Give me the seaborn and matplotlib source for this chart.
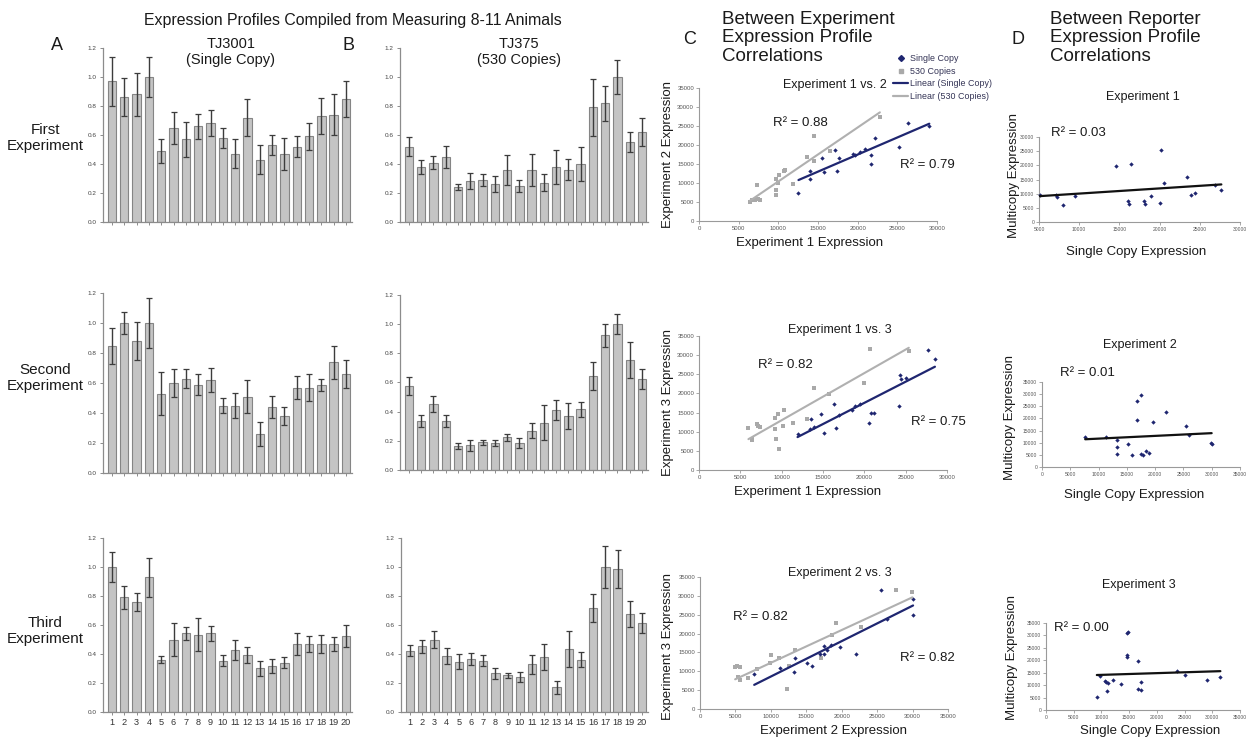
import numpy as np
import pandas as pd
import matplotlib
matplotlib.use("Agg")
import matplotlib.pyplot as plt
import seaborn as sns
from matplotlib.lines import Line2D

W, H = 1249, 740

# ---------------------------------------------------------------------------
# Relative expression profiles (mean and error) for genes 1-20
# ---------------------------------------------------------------------------
genes = [str(i) for i in range(1, 21)]
bar_yticks = [0.0, 0.2, 0.4, 0.6, 0.8, 1.0, 1.2]

tj3001_exp1_mean = [0.97, 0.86, 0.88, 1.00, 0.49, 0.65, 0.57, 0.66, 0.68, 0.58,
                    0.47, 0.72, 0.43, 0.53, 0.47, 0.52, 0.59, 0.73, 0.74, 0.85]
tj3001_exp1_err = [0.17, 0.13, 0.15, 0.135, 0.08, 0.11, 0.12, 0.085, 0.09, 0.07,
                   0.10, 0.125, 0.10, 0.07, 0.11, 0.07, 0.09, 0.125, 0.14, 0.125]

tj375_exp1_mean = [0.52, 0.38, 0.41, 0.45, 0.24, 0.28, 0.29, 0.26, 0.36, 0.25,
                   0.36, 0.27, 0.38, 0.36, 0.40, 0.79, 0.82, 1.00, 0.55, 0.62]
tj375_exp1_err = [0.065, 0.05, 0.047, 0.075, 0.02, 0.055, 0.04, 0.055, 0.105, 0.04,
                  0.11, 0.058, 0.12, 0.072, 0.12, 0.195, 0.12, 0.115, 0.07, 0.095]

tj3001_exp2_mean = [0.85, 1.00, 0.88, 1.00, 0.53, 0.60, 0.63, 0.59, 0.62, 0.45,
                    0.45, 0.51, 0.26, 0.44, 0.38, 0.57, 0.57, 0.59, 0.74, 0.66]
tj3001_exp2_err = [0.12, 0.075, 0.125, 0.165, 0.145, 0.095, 0.065, 0.07, 0.082, 0.05,
                   0.085, 0.11, 0.08, 0.075, 0.06, 0.075, 0.087, 0.04, 0.11, 0.095]

tj375_exp2_mean = [0.575, 0.335, 0.45, 0.335, 0.166, 0.168, 0.189, 0.184, 0.225, 0.184,
                   0.27, 0.324, 0.41, 0.37, 0.415, 0.644, 0.923, 1.00, 0.755, 0.625]
tj375_exp2_err = [0.06, 0.043, 0.055, 0.043, 0.02, 0.04, 0.02, 0.02, 0.025, 0.036,
                  0.05, 0.12, 0.07, 0.09, 0.05, 0.096, 0.08, 0.07, 0.122, 0.07]

tj3001_exp3_mean = [1.00, 0.79, 0.756, 0.929, 0.361, 0.499, 0.543, 0.533, 0.543, 0.354,
                    0.428, 0.391, 0.301, 0.315, 0.34, 0.469, 0.469, 0.469, 0.469, 0.526]
tj3001_exp3_err = [0.105, 0.08, 0.062, 0.135, 0.025, 0.115, 0.046, 0.115, 0.053, 0.039,
                   0.07, 0.055, 0.05, 0.048, 0.039, 0.075, 0.055, 0.062, 0.05, 0.076]

tj375_exp3_mean = [0.423, 0.453, 0.499, 0.389, 0.347, 0.366, 0.354, 0.267, 0.253, 0.244,
                   0.329, 0.38, 0.17, 0.434, 0.361, 0.717, 1.00, 0.984, 0.678, 0.614]
tj375_exp3_err = [0.04, 0.046, 0.06, 0.055, 0.053, 0.041, 0.037, 0.039, 0.016, 0.034,
                  0.064, 0.092, 0.046, 0.122, 0.053, 0.097, 0.143, 0.131, 0.09, 0.071]

# ---------------------------------------------------------------------------
# Between-experiment correlations (raw expression)
# ---------------------------------------------------------------------------
e12_single_x = [12540, 13980, 14030, 15810, 15470, 17160, 17370, 17670, 19410, 19620,
                20340, 20980, 21650, 21650, 22160, 25260, 26400, 29030]
e12_single_y = [7370, 11140, 13160, 12890, 16580, 18590, 13070, 16580, 17720, 17460,
                18160, 19040, 14910, 17370, 21750, 19470, 25880, 25090]
e12_multi_x = [7330, 6400, 6700, 7030, 7630, 7400, 9660, 9660, 9660, 9960,
               10080, 10720, 10810, 11910, 13560, 14490, 14530, 16570, 22800]
e12_multi_y = [9560, 5000, 5440, 5610, 5440, 5700, 8070, 6750, 10960, 10000,
               12190, 13070, 13510, 9820, 16930, 22280, 15700, 18330, 27370]

e13_single_x = [11920, 13380, 13540, 13860, 15080, 14790, 16290, 16570, 16900, 18510,
                18840, 19520, 20530, 20860, 21220, 24290, 24490, 25100, 27690, 28540, 24250]
e13_single_y = [9340, 10830, 13440, 11260, 9780, 14750, 17110, 11090, 14490, 15630,
                16670, 17110, 12400, 14840, 14840, 24790, 23660, 23920, 31340, 28980, 16670]
e13_multi_x = [5980, 6470, 6990, 7110, 7400, 9220, 9220, 9300, 9500, 9700,
               10150, 10310, 11360, 13060, 13860, 15760, 19930, 20650, 25380, 6390]
e13_multi_y = [11090, 8210, 11960, 11440, 11260, 13710, 10650, 8210, 14580, 5590,
               11440, 15800, 12310, 13440, 21480, 19820, 22790, 31520, 31170, 7770]

e23_single_x = [7650, 11330, 13220, 13360, 15100, 15810, 16990, 17560, 17560, 17940,
                18500, 19820, 21950, 25490, 26430, 30070, 30070]
e23_single_y = [9370, 10860, 9810, 13490, 12180, 11300, 14630, 14630, 16640, 15680,
                17080, 16560, 14630, 31450, 23830, 29080, 24880]
e23_multi_x = [4960, 5190, 5660, 5330, 5660, 6840, 8020, 9910, 10050, 11090,
               12270, 12510, 13450, 17130, 19260, 22660, 27660, 29970, 18640]
e23_multi_y = [11130, 11480, 11130, 8500, 7800, 8230, 10690, 12180, 14370, 13580,
               5430, 11300, 15770, 13490, 22690, 21640, 31540, 31100, 19620]

# ---------------------------------------------------------------------------
# Between-reporter correlations (single copy vs multicopy)
# ---------------------------------------------------------------------------
rep1_single = [5080, 7110, 7230, 8000, 9460, 14520, 16420, 16020, 16220, 18040,
               18240, 18930, 20070, 20230, 20550, 23470, 23870, 24440, 26950, 27680]
rep1_multi = [9640, 9640, 8940, 6000, 9170, 19640, 20580, 7290, 6470, 7410,
              6470, 9170, 6820, 25280, 13880, 15880, 9410, 10350, 13170, 11410]

rep2_single = [7640, 11350, 13230, 13230, 13230, 15170, 15880, 16820, 16820, 17520,
               17520, 17820, 18400, 18880, 19700, 21870, 25400, 26050, 29870, 29990]
rep2_multi = [12190, 12190, 10960, 8080, 5340, 9590, 4800, 27260, 19180, 29730,
              5340, 4930, 6710, 5750, 18500, 22470, 16990, 13150, 9860, 9450]

rep3_single = [9170, 9760, 10580, 10880, 11050, 11170, 12110, 13470, 14580, 14760,
               14640, 14640, 16520, 16640, 17050, 17110, 23700, 24990, 28990, 31460]
rep3_multi = [5240, 13570, 11560, 11160, 7660, 10890, 11960, 10480, 31050, 31320,
              22310, 21370, 19620, 8600, 8060, 11150, 15590, 14250, 12230, 13170]

# ---------------------------------------------------------------------------
sns.set_theme(style="white")
plt.rcParams["font.family"] = ["Liberation Sans", "DejaVu Sans"]

BAR_FILL = "#c4c4c4"
BAR_EDGE = "#858585"
ERR_COL = "#3c3c3c"
NAVY = "#1f2670"
GREY_PT = "#a9a9a9"
GREY_LINE = "#b0b0b0"
TXT = "#1a1a1a"

fig = plt.figure(figsize=(W / 100, H / 100), dpi=100)


def px_axes(l, t, r, b):
    return fig.add_axes([l / W, 1 - b / H, (r - l) / W, (b - t) / H])


def ftext(x, y, s, **kw):
    kw.setdefault("color", TXT)
    kw.setdefault("ha", "center")
    kw.setdefault("va", "center")
    fig.text(x / W, 1 - y / H, s, **kw)


def bar_panel(box, means, errs, numbers):
    ax = px_axes(*box)
    df = pd.DataFrame({"gene": genes, "expr": means})
    sns.barplot(data=df, x="gene", y="expr", order=genes, color=BAR_FILL,
                saturation=1, width=0.68, edgecolor=BAR_EDGE, linewidth=0.8,
                errorbar=None, ax=ax)
    ax.errorbar(np.arange(len(genes)), means, yerr=errs, fmt="none",
                ecolor=ERR_COL, elinewidth=1.0, capsize=2.0, capthick=0.9)
    ax.set_xlim(-0.73, 19.49)
    ax.set_ylim(0, 1.2)
    ax.set_yticks(bar_yticks)
    ax.set_yticklabels([f"{v:.1f}" for v in bar_yticks])
    ax.set_xlabel("")
    ax.set_ylabel("")
    sns.despine(ax=ax)
    for s in ("left", "bottom"):
        ax.spines[s].set_color("#8c8c8c")
        ax.spines[s].set_linewidth(0.9)
    ax.tick_params(axis="y", left=True, direction="out", length=2.5, width=0.7,
                   color="#8c8c8c", labelsize=4.6, labelcolor="#444444", pad=2)
    ax.tick_params(axis="x", bottom=True, direction="out", length=2.5, width=0.7,
                   color="#8c8c8c", labelsize=6.6, labelcolor="#333333", pad=2,
                   labelbottom=numbers)
    return ax


bar_panel((103, 48, 352, 222), tj3001_exp1_mean, tj3001_exp1_err, False)
bar_panel((400, 48, 648, 222), tj375_exp1_mean, tj375_exp1_err, False)
bar_panel((103, 293, 352, 473), tj3001_exp2_mean, tj3001_exp2_err, False)
bar_panel((400, 295, 648, 470), tj375_exp2_mean, tj375_exp2_err, False)
bar_panel((103, 538, 352, 712), tj3001_exp3_mean, tj3001_exp3_err, True)
bar_panel((401, 538, 648, 712), tj375_exp3_mean, tj375_exp3_err, True)


def scatter_axes(box, xlim, xticks, ylim, yticks, xlabel, ylabel, xl_pos, yl_pos,
                 ticksize=4.3):
    ax = px_axes(*box)
    l, t, r, b = box
    ax.set_xlim(*xlim)
    ax.set_ylim(*ylim)
    ax.set_xticks(xticks)
    ax.set_yticks(yticks)
    ax.set_xticklabels([str(v) for v in xticks])
    ax.set_yticklabels([str(v) for v in yticks])
    sns.despine(ax=ax)
    for s in ("left", "bottom"):
        ax.spines[s].set_color("#9a9a9a")
        ax.spines[s].set_linewidth(0.8)
    ax.tick_params(left=True, bottom=True, direction="out", length=2, width=0.6,
                   color="#9a9a9a", labelsize=ticksize, labelcolor="#555555", pad=1.5)
    ax.set_xlabel(xlabel, fontsize=9.5, color=TXT)
    ax.set_ylabel(ylabel, fontsize=9.5, color=TXT)
    # label positions given in figure pixels (x centre / top for x label,
    # right edge / centre for y label)
    ax.xaxis.set_label_coords((xl_pos[0] - l) / (r - l), -(xl_pos[1] - b) / (b - t))
    ax.yaxis.set_label_coords((yl_pos[0] - l) / (r - l), (b - yl_pos[1]) / (b - t))
    return ax


def two_series(ax, sx, sy, mx, my):
    sns.scatterplot(x=mx, y=my, marker="s", s=9, color=GREY_PT, linewidth=0,
                    ax=ax, clip_on=False, zorder=3)
    sns.scatterplot(x=sx, y=sy, marker="D", s=5, color=NAVY, linewidth=0,
                    ax=ax, clip_on=False, zorder=3)
    sns.regplot(x=np.array(mx), y=np.array(my), scatter=False, ci=None,
                truncate=True, color=GREY_LINE, line_kws={"lw": 1.5, "zorder": 4},
                ax=ax)
    sns.regplot(x=np.array(sx), y=np.array(sy), scatter=False, ci=None,
                truncate=True, color=NAVY, line_kws={"lw": 1.6, "zorder": 5},
                ax=ax)


def one_series(ax, sx, my):
    sns.scatterplot(x=sx, y=my, marker="D", s=5, color=NAVY, linewidth=0,
                    ax=ax, clip_on=False, zorder=3)
    sns.regplot(x=np.array(sx), y=np.array(my), scatter=False, ci=None,
                truncate=True, color="#111111", line_kws={"lw": 1.6, "zorder": 4},
                ax=ax)


ticks30 = list(range(0, 30001, 5000))
ticks35 = list(range(0, 35001, 5000))

# --- C: between experiment -------------------------------------------------
c1 = scatter_axes((699, 88, 937, 221), (0, 30000), ticks30, (0, 35000), ticks35,
                  "Experiment 1 Expression", "Experiment 2 Expression",
                  (810, 237), (674, 155))
two_series(c1, e12_single_x, e12_single_y, e12_multi_x, e12_multi_y)
c1.set_xlim(0, 30000); c1.set_ylim(0, 35000)

c2 = scatter_axes((699, 336, 947, 470), (0, 30000), ticks30, (0, 35000), ticks35,
                  "Experiment 1 Expression", "Experiment 3 Expression",
                  (808, 486), (674, 403))
two_series(c2, e13_single_x, e13_single_y, e13_multi_x, e13_multi_y)
c2.set_xlim(0, 30000); c2.set_ylim(0, 35000)

c3 = scatter_axes((700, 577, 948, 709), (0, 35000), ticks35, (0, 35000), ticks35,
                  "Experiment 2 Expression", "Experiment 3 Expression",
                  (833, 725), (674, 647))
two_series(c3, e23_single_x, e23_single_y, e23_multi_x, e23_multi_y)
c3.set_xlim(0, 35000); c3.set_ylim(0, 35000)

# --- D: between reporter ---------------------------------------------------
d1 = scatter_axes((1039, 137, 1240, 222), (5000, 30000), ticks30[1:], (0, 30000), ticks30,
                  "Single Copy Expression", "Multicopy Expression",
                  (1136, 246), (1020, 175), ticksize=3.6)
one_series(d1, rep1_single, rep1_multi)
d1.set_xlim(5000, 30000); d1.set_ylim(0, 30000)

d2 = scatter_axes((1042, 382, 1240, 467), (0, 35000), ticks35, (0, 35000), ticks35,
                  "Single Copy Expression", "Multicopy Expression",
                  (1134, 489), (1016, 418), ticksize=3.6)
one_series(d2, rep2_single, rep2_multi)
d2.set_xlim(0, 35000); d2.set_ylim(0, 35000)

d3 = scatter_axes((1046, 623, 1240, 710), (0, 35000), ticks35, (0, 35000), ticks35,
                  "Single Copy Expression", "Multicopy Expression",
                  (1150, 725), (1018, 658), ticksize=3.6)
one_series(d3, rep3_single, rep3_multi)
d3.set_xlim(0, 35000); d3.set_ylim(0, 35000)

# --- panel titles and fit statistics --------------------------------------
for x, y, s in [(835, 85, "Experiment 1 vs. 2"), (840, 330, "Experiment 1 vs. 3"),
                (840, 573, "Experiment 2 vs. 3"), (1143, 97, "Experiment 1"),
                (1140, 345, "Experiment 2"), (1139, 585, "Experiment 3")]:
    ftext(x, y, s, fontsize=9)

for x, y, s in [(800, 123, "R² = 0.88"), (927, 165, "R² = 0.79"),
                (785, 365, "R² = 0.82"), (938, 422, "R² = 0.75"),
                (760, 617, "R² = 0.82"), (927, 658, "R² = 0.82"),
                (1078, 133, "R² = 0.03"), (1087, 373, "R² = 0.01"),
                (1081, 628, "R² = 0.00")]:
    ftext(x, y, s, fontsize=9.5)

# legend for the experiment correlations
handles = [
    Line2D([], [], ls="none", marker="D", ms=3.0, color=NAVY),
    Line2D([], [], ls="none", marker="s", ms=3.4, color=GREY_PT),
    Line2D([], [], color=NAVY, lw=1.6),
    Line2D([], [], color=GREY_LINE, lw=1.6),
]
labels = ["Single Copy", "530 Copies", "Linear (Single Copy)", "Linear (530 Copies)"]
fig.legend(handles, labels, loc="upper left", bbox_to_anchor=(893 / W, 1 - 54 / H),
           frameon=False, fontsize=6.4, handlelength=1.7, handletextpad=0.25,
           labelspacing=0.42, borderaxespad=0, borderpad=0, labelcolor="#333355")

# --- headings --------------------------------------------------------------
ftext(353, 20, "Expression Profiles Compiled from Measuring 8-11 Animals", fontsize=11.4)
ftext(57, 46, "A", fontsize=13)
ftext(348, 46, "B", fontsize=13)
ftext(690, 40, "C", fontsize=13)
ftext(1018, 40, "D", fontsize=13)
ftext(231, 52, "TJ3001\n(Single Copy)", fontsize=10.5, linespacing=1.15)
ftext(519, 52, "TJ375\n(530 Copies)", fontsize=10.5, linespacing=1.15)
ftext(45, 138, "First\nExperiment", fontsize=11, linespacing=1.15)
ftext(45, 378, "Second\nExperiment", fontsize=11, linespacing=1.15)
ftext(45, 631, "Third\nExperiment", fontsize=11, linespacing=1.15)
ftext(722, 38, "Between Experiment\nExpression Profile\nCorrelations", fontsize=13.5,
      ha="left", linespacing=1.12)
ftext(1050, 38, "Between Reporter\nExpression Profile\nCorrelations", fontsize=13.5,
      ha="left", linespacing=1.12)

fig.savefig("out.png", dpi=100, facecolor="white")
